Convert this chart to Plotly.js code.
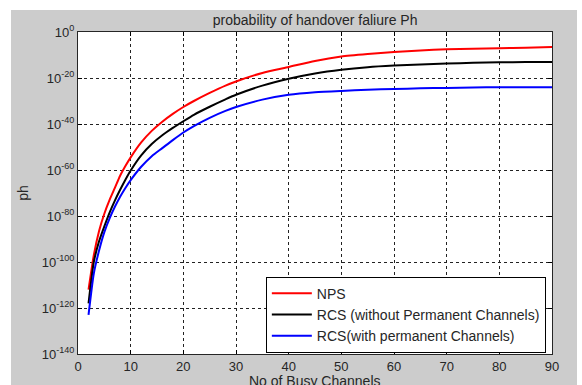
<!DOCTYPE html>
<html>
<head>
<meta charset="utf-8">
<script src="https://cdn.plot.ly/plotly-3.0.1.min.js"></script>
<style>html,body{margin:0;padding:0;background:#fff;}#chart{width:582px;height:385px;}</style>
</head>
<body>
<div id="chart"></div>
<script>
// Data
const busyChannels = [2,3,4,5,6,7,8,9,10,12,14,16,18,20,22,25,28,30,35,40,45,50,55,60,65,70,75,80,85,90];
const npsPh = [1e-112,1e-97,3.16e-87,1e-79,1e-73,1.6e-68,3.16e-63,5e-59,3.16e-55,1e-48,1e-43,1e-39,2.5e-36,2.5e-33,1e-30,3.16e-27,5e-24,3.16e-22,1.6e-18,6.3e-16,2.5e-13,2e-11,2.5e-10,2e-9,1e-8,3.16e-8,5e-8,8e-8,1.6e-7,3.16e-7];
const rcsNoPermPh = [1e-118,1e-100,1e-91,3.16e-85,3.16e-79,5e-74,2.5e-69,6.3e-65,6.3e-61,2.5e-54,2e-49,1.26e-45,2e-42,1.6e-39,1e-36,3.16e-33,5e-30,5e-28,5e-24,5e-21,1e-18,4e-17,5e-16,2.5e-15,8e-15,2e-14,4e-14,6.3e-14,8e-14,8e-14];
const rcsPermPh = [1e-123,1e-105,1e-95,1e-87,1e-81,1e-76,2.5e-72,1.6e-68,4e-65,2.5e-59,1e-54,3.16e-51,1e-47,2e-44,1.26e-41,5e-38,5e-35,2.5e-33,4e-30,5e-28,6.3e-27,2.5e-26,8e-26,1.6e-25,3.16e-25,5e-25,8e-25,1e-24,1e-24,1e-24];
const seriesNames = ["NPS","RCS (without Permanent Channels)","RCS(with permanent Channels)"];
const seriesColors = ["#ff0000","#000000","#0000ff"];
const yTickVals = [1e0,1e-20,1e-40,1e-60,1e-80,1e-100,1e-120,1e-140];
const yTickText = ["10<sup>0</sup>","10<sup>-20</sup>","10<sup>-40</sup>","10<sup>-60</sup>","10<sup>-80</sup>","10<sup>-100</sup>","10<sup>-120</sup>","10<sup>-140</sup>"];
const xTickVals = [0,10,20,30,40,50,60,70,80,90];
const xTitle = 'No of Busy Channels';

const seriesY = [npsPh, rcsNoPermPh, rcsPermPh];
const traces = seriesY.map((ys,i)=>({
  x: busyChannels, y: ys, type:'scatter', mode:'lines',
  name: seriesNames[i],
  line:{color: seriesColors[i], width:2, shape:'spline', smoothing:0.6}
}));

const fam = '"Liberation Sans", Arial, sans-serif';
const txt = '#262626';
const layout = {
  width:582, height:385,
  paper_bgcolor:'#cccccc', plot_bgcolor:'#ffffff',
  margin:{l:78, r:30, t:32, b:31, pad:0},
  font:{family:fam, size:13, color:txt},
  showlegend:true,
  title:{text:'probability of handover faliure Ph', font:{family:fam,size:14,color:txt}, x:0.5415, xanchor:'center', y:0.948, yanchor:'middle'},
  xaxis:{
    range:[0,90], tickvals:xTickVals, ticks:'inside', ticklen:4, tickcolor:'#000',
    showline:true, linecolor:'#262626', linewidth:1, mirror:'allticks',
    showgrid:true, gridcolor:'#222222', griddash:'3px,3px', gridwidth:1, zeroline:false,
    tickfont:{family:fam,size:13,color:txt},
    automargin:false
  },
  yaxis:{
    type:'log', range:[-140,0], tickvals:yTickVals, ticktext:yTickText,
    ticks:'inside', ticklen:4, tickcolor:'#000',
    showline:true, linecolor:'#262626', linewidth:1, mirror:'allticks',
    showgrid:true, gridcolor:'#222222', griddash:'3px,3px', gridwidth:1, zeroline:false,
    tickfont:{family:fam,size:13,color:txt},
    title:{text:'ph', font:{family:fam,size:14,color:txt}, standoff:9},
    automargin:false
  },
  annotations:[
    {text:xTitle, xref:'paper', yref:'paper', x:0.5, y:(354-381)/322, xanchor:'center', yanchor:'middle', showarrow:false, font:{family:fam,size:14,color:txt}}
  ],
  legend:{
    x:0.987, xanchor:'right', y:0.004, yanchor:'bottom',
    bgcolor:'#ffffff', bordercolor:'#000000', borderwidth:1,
    font:{family:fam,size:14,color:txt},
    tracegroupgap:0, itemwidth:40
  },
  shapes:[
    {type:'rect', xref:'paper', yref:'paper', x0:-0.2, x1:1.1, y0:(354-10)/322, y1:1.2, fillcolor:'#ffffff', line:{width:0}, layer:'above'},
    {type:'rect', xref:'paper', yref:'paper', x0:-0.2, x1:(11-78)/474, y0:-0.2, y1:1.2, fillcolor:'#ffffff', line:{width:0}, layer:'above'},
    {type:'rect', xref:'paper', yref:'paper', x0:(577-78)/474, x1:1.1, y0:-0.2, y1:1.2, fillcolor:'#ffffff', line:{width:0}, layer:'above'}
  ]
};
Plotly.newPlot('chart', traces, layout, {displayModeBar:false, staticPlot:true});
</script>
</body>
</html>
